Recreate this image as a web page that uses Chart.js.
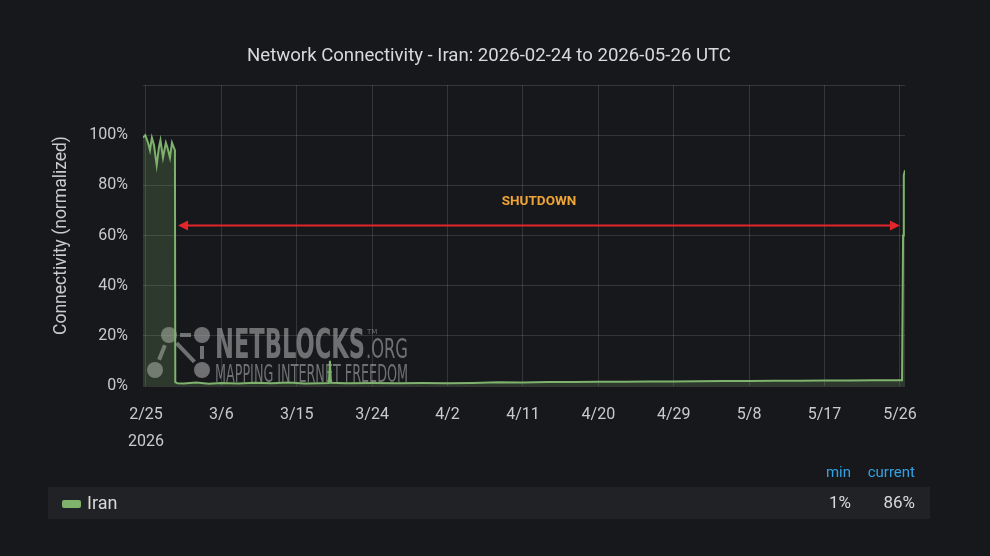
<!DOCTYPE html>
<html>
<head>
<meta charset="utf-8">
<title>Network Connectivity - Iran</title>
<script src="https://cdn.jsdelivr.net/npm/chart.js@4.4.1/dist/chart.umd.min.js"></script>
<style>
  html, body { margin: 0; padding: 0; background: #17181b; }
  canvas { display: block; }
</style>
</head>
<body>
<canvas id="chart" width="990" height="556"></canvas>
<script>
const chartTitle = 'Network Connectivity - Iran: 2026-02-24 to 2026-05-26 UTC'
const yAxisTitle = 'Connectivity (normalized)'
const seriesName = 'Iran'

// readings, UTC
const times = [
  '2026-02-24T15:30', '2026-02-24T22:00', '2026-02-25T06:00', '2026-02-25T11:30',
  '2026-02-25T17:00', '2026-02-25T23:00', '2026-02-26T06:45', '2026-02-26T13:00',
  '2026-02-26T17:30', '2026-02-27T00:45', '2026-02-27T09:00', '2026-02-27T13:40',
  '2026-02-27T20:40', '2026-02-28T02:30', '2026-02-28T08:00', '2026-02-28T11:00',
  '2026-02-28T12:00', '2026-02-28T18:00', '2026-03-01T12:00', '2026-03-03T00:00',
  '2026-03-04T12:00', '2026-03-06T00:00', '2026-03-08T00:00', '2026-03-10T00:00',
  '2026-03-12T00:00', '2026-03-14T00:00', '2026-03-16T00:00', '2026-03-18T20:00',
  '2026-03-18T23:00', '2026-03-19T02:00', '2026-03-21T00:00', '2026-03-24T00:00',
  '2026-03-27T00:00', '2026-03-30T00:00', '2026-04-02T00:00', '2026-04-05T00:00',
  '2026-04-08T00:00', '2026-04-11T00:00', '2026-04-14T00:00', '2026-04-17T00:00',
  '2026-04-20T00:00', '2026-04-23T00:00', '2026-04-26T00:00', '2026-04-29T00:00',
  '2026-05-02T00:00', '2026-05-05T00:00', '2026-05-08T00:00', '2026-05-11T00:00',
  '2026-05-14T00:00', '2026-05-17T00:00', '2026-05-20T00:00', '2026-05-23T00:00',
  '2026-05-26T06:00', '2026-05-26T09:00', '2026-05-26T11:00', '2026-05-26T14:30'
]
const values = [
  99, 100, 97, 94,
  99, 96, 88, 95,
  98, 91, 97, 95,
  91, 97, 95, 94,
  1.5, 1.1, 1.0, 1.4,
  0.9, 1.2, 1.0, 1.3,
  1.1, 1.4, 1.0, 1.2,
  10, 1.3, 1.1, 1.2,
  1.1, 1.2, 1.1, 1.2,
  1.5, 1.4, 1.6, 1.6,
  1.7, 1.7, 1.8, 1.8,
  1.9, 2.0, 2.0, 2.1,
  2.1, 2.2, 2.2, 2.3,
  2.3, 60, 84, 86
]

const viewRange = ['2026-02-24T15:30', '2026-05-26T14:30']
const tickDates = [
  '2026-02-25T00:00', '2026-03-06T00:00', '2026-03-15T00:00', '2026-03-24T00:00',
  '2026-04-02T00:00', '2026-04-11T00:00', '2026-04-20T00:00', '2026-04-29T00:00',
  '2026-05-08T00:00', '2026-05-17T00:00', '2026-05-26T00:00'
]
const tickLabels = ['2/25', '3/6', '3/15', '3/24', '4/2', '4/11', '4/20', '4/29', '5/8', '5/17', '5/26']
const tickYear = '2026'

const shutdownSpan = ['2026-02-28T20:00', '2026-05-26T00:00']
const shutdownLevel = 64
const shutdownLabel = 'SHUTDOWN'
const shutdownLabelLevel = 73.5

const legendHeaders = ['min', 'current']

const GREEN = '#7eb26d'
const TEXT = '#c9cacc'
const FONT = 'Roboto, "Noto Sans", sans-serif'

const epoch = Date.parse('2026-02-25T00:00Z')
const toDays = s => (Date.parse(s + 'Z') - epoch) / 864e5

const points = times.map((t, i) => ({ x: toDays(t), y: values[i] }))

function fitText(ctx, text, x, y, width) {
  const w = ctx.measureText(text).width
  ctx.save()
  ctx.translate(x, y)
  ctx.scale(width / w, 1)
  ctx.fillText(text, 0, 0)
  ctx.restore()
}

const titlePlugin = {
  id: 'topTitle',
  afterDraw(chart) {
    const ctx = chart.ctx
    ctx.save()
    ctx.font = '18.6px ' + FONT
    ctx.fillStyle = '#d8d9da'
    ctx.textAlign = 'center'
    ctx.textBaseline = 'middle'
    ctx.fillText(chartTitle, 489, 56)
    ctx.restore()
  }
}

const watermark = {
  id: 'watermark',
  beforeDatasetsDraw(chart) {
    const ctx = chart.ctx
    const ox = chart.chartArea.left, oy = chart.chartArea.bottom
    const grey = 'rgba(175,175,175,0.58)'
    ctx.save()
    ctx.fillStyle = grey
    ctx.strokeStyle = grey
    ctx.lineWidth = 4
    const nodes = [[26, -51], [59, -51], [59, -16], [12, -16]]
    const links = [[0, 1], [0, 2], [0, 3], [1, 2]]
    links.forEach(([a, b]) => {
      const [x1, y1] = nodes[a], [x2, y2] = nodes[b]
      const len = Math.hypot(x2 - x1, y2 - y1), ux = (x2 - x1) / len, uy = (y2 - y1) / len
      ctx.beginPath()
      ctx.moveTo(ox + x1 + ux * 11, oy + y1 + uy * 11)
      ctx.lineTo(ox + x2 - ux * 11, oy + y2 - uy * 11)
      ctx.stroke()
    })
    nodes.forEach(([x, y]) => {
      ctx.beginPath()
      ctx.arc(ox + x, oy + y, 8, 0, Math.PI * 2)
      ctx.fill()
    })
    ctx.textBaseline = 'alphabetic'
    ctx.font = 'bold 41px "DejaVu Sans Condensed", "DejaVu Sans", sans-serif'
    fitText(ctx, 'NETBLOCKS', ox + 72, oy - 28, 150)
    ctx.font = '27px "DejaVu Sans Condensed", "DejaVu Sans", sans-serif'
    fitText(ctx, '.ORG', ox + 223, oy - 28, 42)
    ctx.font = '7px "DejaVu Sans", sans-serif'
    ctx.fillText('TM', ox + 224, oy - 52)
    ctx.font = '24px "DejaVu Sans Condensed", "DejaVu Sans", sans-serif'
    fitText(ctx, 'MAPPING INTERNET FREEDOM', ox + 72, oy - 4, 193)
    ctx.restore()
  }
}

const shutdownArrow = {
  id: 'shutdownArrow',
  afterDatasetsDraw(chart) {
    const { ctx, scales: { x, y } } = chart
    const x1 = x.getPixelForValue(toDays(shutdownSpan[0]))
    const x2 = x.getPixelForValue(toDays(shutdownSpan[1]))
    const py = y.getPixelForValue(shutdownLevel)
    ctx.save()
    ctx.strokeStyle = '#e3262b'
    ctx.fillStyle = '#e3262b'
    ctx.lineWidth = 2
    ctx.beginPath()
    ctx.moveTo(x1 + 8, py)
    ctx.lineTo(x2 - 8, py)
    ctx.stroke()
    ctx.beginPath()
    ctx.moveTo(x1, py); ctx.lineTo(x1 + 10, py - 5); ctx.lineTo(x1 + 10, py + 5); ctx.closePath()
    ctx.moveTo(x2, py); ctx.lineTo(x2 - 10, py - 5); ctx.lineTo(x2 - 10, py + 5); ctx.closePath()
    ctx.fill()
    ctx.font = 'bold 13.5px ' + FONT
    ctx.fillStyle = '#eea437'
    ctx.textAlign = 'center'
    ctx.textBaseline = 'middle'
    ctx.fillText(shutdownLabel, (x1 + x2) / 2, y.getPixelForValue(shutdownLabelLevel))
    ctx.restore()
  }
}

const legendTable = {
  id: 'legendTable',
  afterDraw(chart) {
    const ctx = chart.ctx
    const minVal = Math.round(Math.min(...values)) + '%'
    const curVal = Math.round(values[values.length - 1]) + '%'
    ctx.save()
    ctx.fillStyle = '#212226'
    ctx.fillRect(48, 487, 882, 32)
    ctx.fillStyle = GREEN
    ctx.beginPath()
    ctx.roundRect(62, 500, 19, 8, 2)
    ctx.fill()
    ctx.textBaseline = 'middle'
    ctx.font = '18px ' + FONT
    ctx.fillStyle = '#d8d9da'
    ctx.fillText(seriesName, 87, 504)
    ctx.textAlign = 'right'
    ctx.font = '15px ' + FONT
    ctx.fillStyle = '#33a2e5'
    ctx.fillText(legendHeaders[0], 851, 473)
    ctx.fillText(legendHeaders[1], 915, 473)
    ctx.font = '17px ' + FONT
    ctx.fillStyle = '#d8d9da'
    ctx.fillText(minVal, 851, 504)
    ctx.fillText(curVal, 915, 504)
    ctx.restore()
  }
}

new Chart(document.getElementById('chart'), {
  type: 'line',
  data: {
    datasets: [{
      label: seriesName,
      data: points,
      borderColor: GREEN,
      backgroundColor: 'rgba(126,178,109,0.22)',
      borderWidth: 2,
      pointRadius: 0,
      tension: 0,
      fill: 'origin'
    }]
  },
  options: {
    responsive: false,
    animation: false,
    layout: { padding: { left: 0, right: 85, top: 85, bottom: 100 } },
    plugins: {
      legend: { display: false },
      tooltip: { enabled: false }
    },
    scales: {
      x: {
        type: 'linear',
        min: toDays(viewRange[0]),
        max: toDays(viewRange[1]),
        afterFit: s => { s.height = 70 },
        afterBuildTicks: s => { s.ticks = tickDates.map(d => ({ value: toDays(d) })) },
        border: { display: false },
        grid: { color: 'rgba(255,255,255,0.13)', drawTicks: false },
        ticks: {
          autoSkip: false,
          maxRotation: 0,
          padding: 15,
          color: TEXT,
          font: { family: FONT, size: 16, lineHeight: 1.7 },
          callback: (v, i) => i === 0 ? [tickLabels[0], tickYear] : tickLabels[i]
        }
      },
      y: {
        min: 0,
        max: 120,
        afterFit: s => { s.width = 143 },
        border: { display: false },
        grid: { color: 'rgba(255,255,255,0.13)', drawTicks: false },
        ticks: {
          stepSize: 20,
          padding: 15,
          color: TEXT,
          font: { family: FONT, size: 16 },
          callback: v => v <= 100 ? v + '%' : ''
        },
        title: {
          display: true,
          text: yAxisTitle,
          color: TEXT,
          font: { family: FONT, size: 17.5 },
          padding: { top: 51, bottom: 0 }
        }
      }
    }
  },
  plugins: [titlePlugin, watermark, shutdownArrow, legendTable]
})
</script>
</body>
</html>
